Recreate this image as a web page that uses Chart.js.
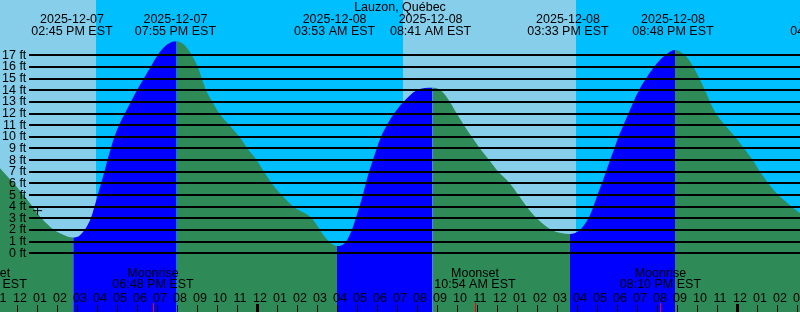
<!DOCTYPE html>
<html>
<head>
<meta charset="utf-8">
<title>Lauzon, Québec — marées</title>
<script src="https://cdn.jsdelivr.net/npm/chart.js@4.4.0/dist/chart.umd.min.js"></script>
<style>
  html, body { margin: 0; padding: 0; background: #87CEEB; }
  #wrap { width: 800px; height: 312px; position: relative; }
</style>
</head>
<body>
<div id="wrap"><canvas id="tide"></canvas></div>
<script>
// ---------------------------------------------------------------------------
// Tide graph, Lauzon (Québec), 7–9 déc. 2025. Times are decimal hours counted
// from 2025-12-07 00:00 EST; heights in feet.
// ---------------------------------------------------------------------------
var TITLE = 'Lauzon, Québec';

var X_MIN = 11.15, X_MAX = 51.15;      // visible time window
var Y_MIN = -5.04, Y_MAX = 21.75;      // visible height window (ft)

var TIDE_HOURS = [11.15, 11.65, 12.15, 12.65, 13.15, 13.65, 14.15, 14.81, 15.15, 15.49,
  15.69, 15.87, 16.04, 16.20, 16.37, 16.52, 16.69, 16.87, 17.10, 17.39,
  17.69, 18.00, 18.34, 18.68, 19.03, 19.49, 19.98, 20.49, 21.04, 21.24,
  21.45, 21.77, 22.12, 22.62, 23.12, 23.52, 23.99, 24.35, 24.74, 25.24,
  25.82, 26.74, 27.15, 27.49, 28.00, 28.45, 28.74, 28.94, 29.12, 29.29,
  29.44, 29.60, 29.79, 29.99, 30.20, 30.49, 30.85, 31.32, 31.99, 32.78,
  33.19, 33.65, 33.99, 34.35, 34.74, 35.15, 35.62, 36.07, 36.65, 37.07,
  37.49, 37.99, 38.74, 39.65, 40.15, 40.57, 40.82, 41.02, 41.24, 41.45,
  41.65, 41.87, 42.07, 42.32, 42.57, 42.82, 43.10, 43.45, 43.85, 44.40,
  44.90, 45.40, 45.82, 46.12, 46.40, 46.65, 46.95, 47.40, 47.90, 48.35,
  48.79, 49.15, 49.57, 50.07, 50.74, 51.15];
var TIDE_FEET = [7.3, 6.35, 5.38, 4.29, 3.15, 2.29, 1.72, 1.35, 1.55, 2.3,
  3, 4, 5, 6, 7, 8, 9, 10, 11, 12,
  13, 14, 15, 16, 17, 17.9, 18.2, 17.66, 16, 15,
  14, 13, 12, 11, 10, 9, 8, 7, 6, 5,
  4, 3, 2.0, 1.2, 0.62, 1, 2, 3, 4, 5,
  6, 7, 8, 9, 10, 11, 12, 13, 14, 14.22,
  14, 13, 12, 11, 10, 9, 8, 7, 6, 5,
  4, 3, 2, 1.66, 2, 3, 4, 5, 6, 7,
  8, 9, 10, 11, 12, 13, 14, 15, 16, 17,
  17.46, 17, 16, 15, 14, 13, 12, 11, 10, 9,
  8, 7, 6, 5, 4, 3.43];

// high / low tide labels along the top
var EVENT_HOURS = [14.75, 19.92, 27.88, 32.68, 39.55, 44.80, 52.70];
var EVENT_DATES = ['2025-12-07', '2025-12-07', '2025-12-08', '2025-12-08', '2025-12-08', '2025-12-08', '2025-12-09'];
var EVENT_TIMES = ['02:45 PM EST', '07:55 PM EST', '03:53 AM EST', '08:41 AM EST', '03:33 PM EST', '08:48 PM EST', '04:42 AM EST'];

// night shading (sunset -> sunrise)
var SUNSET_HOURS = [15.95, 39.95];
var SUNRISE_HOURS = [31.32, 56.0];

// moon events along the bottom
var MOON_HOURS = [10.46, 18.80, 34.90, 44.17];
var MOON_NAMES = ['Moonset', 'Moonrise', 'Moonset', 'Moonrise'];
var MOON_TIMES = ['10:28 AM EST', '06:48 PM EST', '10:54 AM EST', '08:10 PM EST'];

// height axis tick labels
var FEET_TICKS = [0, 1, 2, 3, 4, 5, 6, 7, 8, 9, 10, 11, 12, 13, 14, 15, 16, 17];

// "now" marker
var NOW_HOUR = 13.03, NOW_FEET = 3.66;

var DAY = '#87CEEB', NIGHT = '#00BFFF', RISE = '#0000FF', FALL = '#2E8B57';
var FONT = '12.5px "Liberation Sans", Arial, sans-serif';

Chart.defaults.font.family = '"Liberation Sans", Arial, sans-serif';
Chart.defaults.font.size = 12.5;
Chart.defaults.color = '#000';

function hourLabel(v) {
  var h = ((Math.round(v) % 12) + 12) % 12;
  if (h === 0) h = 12;
  return (h < 10 ? '0' : '') + h;
}

// the axes only carry mirrored labels: no room taken, no padding reserved
function flatAxis(s) {
  if (s.isHorizontal()) s.height = 0; else s.width = 0;
  s.paddingLeft = s.paddingRight = s.paddingTop = s.paddingBottom = 0;
}

var tideDecor = {
  id: 'tideDecor',
  beforeDatasetsDraw: function (chart) {
    var ctx = chart.ctx, a = chart.chartArea, xs = chart.scales.x;
    ctx.save();
    ctx.fillStyle = DAY;
    ctx.fillRect(a.left, a.top, a.right - a.left, a.bottom - a.top);
    ctx.fillStyle = NIGHT;
    for (var i = 0; i < SUNSET_HOURS.length; i++) {
      var x0 = Math.round(xs.getPixelForValue(SUNSET_HOURS[i]));
      var x1 = Math.round(xs.getPixelForValue(SUNRISE_HOURS[i]));
      ctx.fillRect(x0, a.top, x1 - x0, a.bottom - a.top);
    }
    ctx.restore();
  },
  afterDatasetsDraw: function (chart) {
    var ctx = chart.ctx, a = chart.chartArea, xs = chart.scales.x, ys = chart.scales.y;
    ctx.save();
    // level lines, 0..17 ft
    ctx.fillStyle = '#000';
    FEET_TICKS.forEach(function (v) {
      var y = Math.round(ys.getPixelForValue(v) - 1);
      ctx.fillRect(29, y, a.right - 29, 2);
    });
    // hour ticks, midnight heavier
    for (var h = Math.ceil(X_MIN); h <= Math.floor(X_MAX); h++) {
      var px = Math.round(xs.getPixelForValue(h));
      if (h % 24 === 0) ctx.fillRect(px - 1, 304, 3, 8);
      else ctx.fillRect(px, 305, 1, 7);
    }
    // moon ticks
    ctx.fillStyle = '#FF0000';
    MOON_HOURS.forEach(function (m) {
      ctx.fillRect(Math.round(xs.getPixelForValue(m)), 303, 1, 9);
    });
    // texts
    ctx.fillStyle = '#000';
    ctx.font = FONT;
    ctx.textAlign = 'center';
    ctx.textBaseline = 'middle';
    ctx.fillText(TITLE, (a.left + a.right) / 2, 7.5);
    EVENT_HOURS.forEach(function (e, i) {
      var ex = xs.getPixelForValue(e);
      ctx.fillText(EVENT_DATES[i], ex, 19.5);
      ctx.fillText(EVENT_TIMES[i], ex, 31.5);
    });
    MOON_HOURS.forEach(function (m, i) {
      var mx = xs.getPixelForValue(m);
      ctx.fillText(MOON_NAMES[i], mx, 273.3);
      ctx.fillText(MOON_TIMES[i], mx, 285);
    });
    ctx.restore();
  }
};

var tidePoints = TIDE_HOURS.map(function (h, i) { return { x: h, y: TIDE_FEET[i] }; });

new Chart(document.getElementById('tide'), {
  type: 'line',
  data: {
    datasets: [
      {
        data: [{ x: NOW_HOUR, y: NOW_FEET }],
        showLine: false, fill: false,
        pointStyle: 'cross', pointRadius: 4.5,
        pointBorderColor: '#000', pointBorderWidth: 1,
        order: 0
      },
      {
        data: tidePoints,
        borderWidth: 0, pointRadius: 0,
        cubicInterpolationMode: 'monotone',
        fill: 'start',
        backgroundColor: FALL,
        segment: {
          backgroundColor: function (c) { return c.p1.parsed.y > c.p0.parsed.y ? RISE : FALL; }
        },
        order: 1
      }
    ]
  },
  options: {
    responsive: true, maintainAspectRatio: false, animation: false,
    devicePixelRatio: 1,
    layout: { padding: 0, autoPadding: false },
    plugins: { legend: { display: false }, tooltip: { enabled: false } },
    scales: {
      x: {
        type: 'linear', position: 'bottom', min: X_MIN, max: X_MAX,
        afterFit: flatAxis,
        grid: { display: false, drawTicks: false }, border: { display: false },
        ticks: {
          z: 1, stepSize: 1, autoSkip: false, maxRotation: 0, includeBounds: false,
          mirror: true, padding: 6, callback: hourLabel
        }
      },
      y: {
        type: 'linear', position: 'left', min: Y_MIN, max: Y_MAX,
        afterFit: flatAxis,
        grid: { display: false, drawTicks: false }, border: { display: false },
        ticks: {
          z: 1, stepSize: 1, autoSkip: false, includeBounds: false,
          mirror: true, crossAlign: 'far', padding: 2,
          callback: function (v) { return FEET_TICKS.indexOf(v) >= 0 ? v + ' ft' : ''; }
        }
      }
    }
  },
  plugins: [tideDecor]
});
</script>
</body>
</html>
